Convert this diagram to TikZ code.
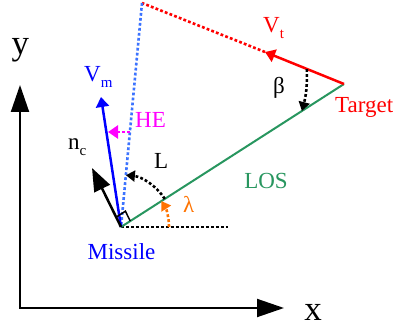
\documentclass[tikz,border=0pt]{standalone}
\usepackage{fontspec}
\setmainfont{Liberation Serif}
\usetikzlibrary{arrows.meta,calc}
\definecolor{losgreen}{RGB}{40,150,95}
\definecolor{orng}{RGB}{255,115,0}
\definecolor{lblue}{RGB}{60,115,255}
\definecolor{mag}{RGB}{255,0,255}
\newcommand\mysub[1]{\raisebox{-6pt}{\fontsize{15}{15}\selectfont #1}}
\begin{document}
\begin{tikzpicture}[x=1pt,y=1pt,
  lbl/.style={inner sep=0pt, font=\fontsize{23}{23}\selectfont},
  axlbl/.style={inner sep=0pt, font=\fontsize{35}{35}\selectfont},
  dotline/.style={line width=2.6pt, dash pattern=on 2.8pt off 2.2pt},
  smalltip/.style={-{Triangle[length=10pt,width=13pt]}},
  tinytip/.style={-{Triangle[length=9pt,width=11pt]}}]
\useasboundingbox (0,0) rectangle (394,329);
% key points
\coordinate (O) at (20,21);
\coordinate (Xe) at (284,21);
\coordinate (Ye) at (20,244);
\coordinate (M) at (121,102);
\coordinate (T) at (344,245);
\coordinate (P) at (142,326);
\coordinate (H) at (228,102);
\coordinate (Vm) at (101,232);
\coordinate (Vt) at (265,277);
\coordinate (NC) at (92,161);
\coordinate (HEs) at (130,197);
\coordinate (HEe) at (108,197);
% axes
\draw[line width=2pt, {Triangle[length=27pt,width=18pt]}-{Triangle[length=27pt,width=18pt]}] (Ye) -- (O) -- (Xe);
\node[axlbl] (ylab) at (20.5,279) {y};
\node[axlbl] (xlab) at (313,17) {x};
% horizontal reference
\draw[dotline, black] (M) -- (H);
% LOS
\draw[line width=2pt, losgreen] (M) -- (T);
% target velocity
\draw[line width=2.5pt, red, smalltip] (T) -- (Vt);
\draw[dotline, red] (Vt) -- (P);
% blue dotted (heading without error)
\draw[dotline, lblue] (P) -- (M);
% missile velocity
\draw[line width=2.5pt, blue, smalltip] (M) -- (Vm);
% HE
\draw[dotline, mag, smalltip] (HEs) -- (HEe);
% n_c
\draw[line width=2.5pt, -{Triangle[length=23pt,width=17pt]}] (M) -- (NC);
% right angle marker
\coordinate (s1) at ($(M)!11pt!(NC)$);
\coordinate (s2) at ($(M)!11pt!(T)$);
\draw[line width=1.5pt] (s1) -- ($(s1)+(s2)-(M)$) -- (s2);
% L arc
\coordinate (L1) at ($(M)+(32.7:52)$);
\draw[dotline, black, tinytip] (L1) arc[start angle=32.7, end angle=84.6, radius=52];
% lambda arc
\coordinate (l1) at ($(M)+(0:48)$);
\draw[dotline, orng, tinytip] (l1) arc[start angle=0, end angle=32.7, radius=48];
% beta
\coordinate (b1) at ($(T)!40pt!(P)$);
\coordinate (b2) at ($(T)!50pt!(M)$);
\draw[dotline, black, tinytip] (b1) to[bend left=8] (b2);
% labels
\node[lbl, blue, anchor=base west] (vmlab) at (84,247) {V\mysub{m}};
\node[lbl, red, anchor=base west] (vtlab) at (263,296) {V\mysub{t}};
\node[lbl, mag, anchor=base west] (helab) at (135,201) {HE};
\node[lbl, anchor=base west] (nclab) at (68,179) {n\mysub{c}};
\node[lbl, anchor=base west] (Llab) at (154,160) {L};
\node[lbl, orng, anchor=base west] (lamlab) at (183,116) {λ};
\node[lbl, anchor=base west] (betlab) at (273,235) {β};
\node[lbl, losgreen] (loslab) at (266,148) {LOS};
\node[lbl, blue] (mislab) at (121.5,77.5) {Missile};
\node[lbl, red, anchor=base west] (tgtlab) at (335,216) {Target};
\end{tikzpicture}
\end{document}
